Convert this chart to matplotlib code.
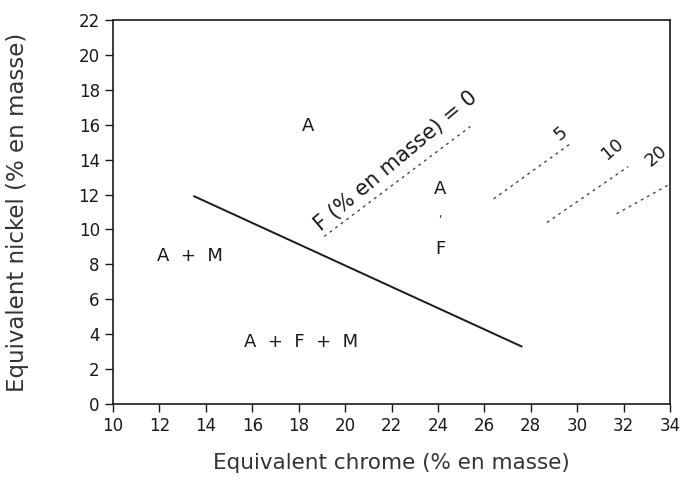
import matplotlib.pyplot as plt

plt.rcParams['font.family'] = ['DejaVu Sans']

# axes
x_ticks = list(range(10, 35, 2))
y_ticks = list(range(0, 23, 2))

# martensite boundary (solid)
boundary_x = [13.5, 27.6]
boundary_y = [11.9, 3.3]

# iso-ferrite lines (% en masse)
ferrite_levels = ['0', '5', '10', '20']
ferrite_x = [[19.1, 25.4], [26.4, 29.8], [28.7, 32.2], [31.7, 34.0]]
ferrite_y = [[9.6, 15.9], [11.75, 15.0], [10.4, 13.6], [10.9, 12.6]]

# region labels
region_text = ['A', 'A', ',', 'F', 'A  +  M', 'A  +  F  +  M']
region_x = [18.4, 24.1, 24.1, 24.1, 13.3, 18.1]
region_y = [15.9, 12.3, 10.9, 8.9, 8.5, 3.55]

ink = '#1a1a1a'

fig = plt.figure(figsize=(6.81, 4.8), dpi=100)
ax = fig.add_axes([113 / 681, 1 - 404 / 480, 557 / 681, 384 / 480])

ax.plot(boundary_x, boundary_y, color=ink, lw=1.4)

for xs, ys in zip(ferrite_x, ferrite_y):
    ax.plot(xs, ys, color='#444444', lw=1.0, linestyle=(0, (2, 3)))

# level labels
ax.text(22.2, 13.9, 'F (% en masse) = ' + ferrite_levels[0], rotation=40,
        ha='center', va='center', fontsize=15, color=ink, rotation_mode='anchor')
ax.text(29.3, 15.5, ferrite_levels[1], rotation=40, ha='center', va='center',
        fontsize=13, color=ink)
ax.text(31.5, 14.6, ferrite_levels[2], rotation=40, ha='center', va='center',
        fontsize=13, color=ink)
ax.text(33.4, 14.2, ferrite_levels[3], rotation=40, ha='center', va='center',
        fontsize=13, color=ink)

for t, x, y in zip(region_text, region_x, region_y):
    fs = 8 if t == ',' else 13
    ax.text(x, y, t, ha='center', va='center', fontsize=fs, color=ink)

ax.set_xlim(10, 34)
ax.set_ylim(0, 22)
ax.set_xticks(x_ticks)
ax.set_yticks(y_ticks)
ax.tick_params(direction='out', length=6, width=1, labelsize=12, colors=ink)
for s in ax.spines.values():
    s.set_color(ink)
    s.set_linewidth(1.2)

ax.set_xlabel('Equivalent chrome (% en masse)', fontsize=15.5, color='#333333', labelpad=13)
ax.set_ylabel('Equivalent nickel (% en masse)', fontsize=16.5, color='#333333', labelpad=36)

fig.savefig('out.png', dpi=100)
